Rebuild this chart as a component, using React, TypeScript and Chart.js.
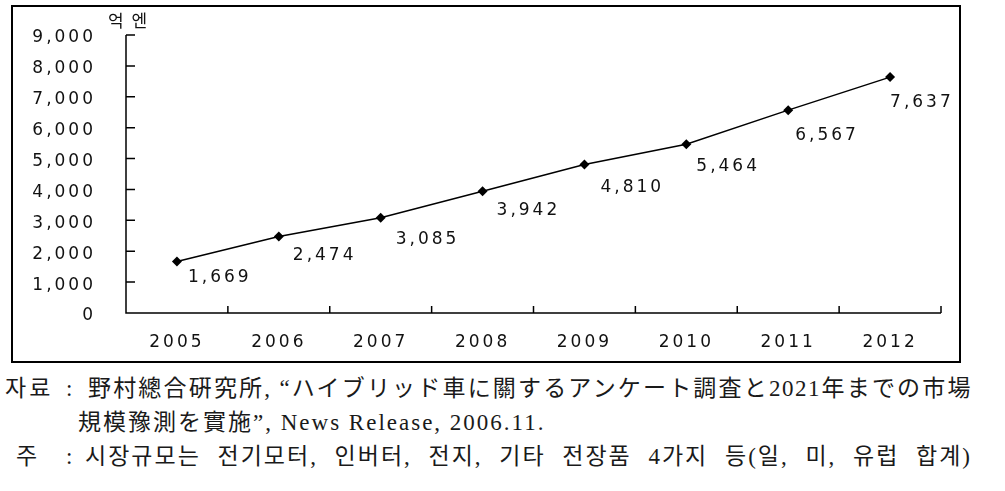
import React, { useEffect, useRef } from "react";
import { Chart, registerables } from "chart.js";

Chart.register(...registerables);

// ---- data ----
const years = ["2005", "2006", "2007", "2008", "2009", "2010", "2011", "2012"];
const marketSize = [1669, 2474, 3085, 3942, 4810, 5464, 6567, 7637];
const yMin = 0;
const yMax = 9000;
const yStep = 1000;
const unitLabel = "억 엔";
const sourceLabel = "자료";
const sourceLine1 = "野村總合硏究所, “ハイブリッド車に關するアンケート調査と2021年までの市場";
const sourceLine2 = "規模豫測を實施”, News Release, 2006.11.";
const noteLabel = "주";
const noteLine = "시장규모는 전기모터, 인버터, 전지, 기타 전장품 4가지 등(일, 미, 유럽 합계)";

// label placement (style, relative to each point)
const labelDx = [11, 14, 15, 14, 16, 10, 7, 0];
const labelDy = [16, 19, 22, 19, 23, 22, 25, 25];

const CHART_FONT = "'DejaVu Sans', sans-serif";
const fmt = (v: number) => Number(v).toLocaleString("en-US");

const customPlugin = {
  id: "customAxesAndLabels",
  beforeDraw(chart: any) {
    chart.ctx.letterSpacing = "3px";
  },
  afterDraw(chart: any) {
    const ctx = chart.ctx;
    const x = chart.scales.x;
    const y = chart.scales.y;
    const { left, right, top, bottom } = chart.chartArea;
    ctx.save();
    ctx.strokeStyle = "#000";
    ctx.lineWidth = 1.5;
    ctx.beginPath();
    ctx.moveTo(left, top);
    ctx.lineTo(left, bottom);
    ctx.lineTo(right, bottom);
    y.ticks.forEach((t: any) => {
      const py = y.getPixelForValue(t.value);
      if (t.value === yMin) return;
      ctx.moveTo(left, py);
      ctx.lineTo(left + 9, py);
    });
    for (let i = 0; i <= years.length; i++) {
      const px = x.getPixelForValue(i - 0.5);
      ctx.moveTo(px, bottom);
      ctx.lineTo(px, bottom - 7);
    }
    ctx.stroke();

    // data labels
    const meta = chart.getDatasetMeta(0);
    ctx.font = `17px ${CHART_FONT}`;
    ctx.fillStyle = "#111";
    ctx.textAlign = "left";
    ctx.textBaseline = "middle";
    ctx.letterSpacing = "3px";
    meta.data.forEach((pt: any, i: number) => {
      ctx.fillText(fmt(marketSize[i]), pt.x + labelDx[i], pt.y + labelDy[i]);
    });
    ctx.restore();
    ctx.letterSpacing = "0px";
  },
};

export default function App() {
  const ref = useRef<HTMLCanvasElement>(null);

  useEffect(() => {
    const chart = new Chart(ref.current as HTMLCanvasElement, {
      type: "line",
      data: {
        labels: years,
        datasets: [
          {
            data: marketSize,
            borderColor: "#000",
            borderWidth: 1.5,
            pointStyle: "rectRot",
            pointRadius: 5,
            pointBackgroundColor: "#000",
            pointBorderColor: "#000",
            pointBorderWidth: 0,
            tension: 0,
            fill: false,
            clip: false,
          } as any,
        ],
      },
      options: {
        animation: false,
        responsive: false,
        devicePixelRatio: 1,
        events: [],
        layout: { padding: { left: 0, right: 64, top: 35, bottom: 0 } },
        plugins: {
          legend: { display: false },
          tooltip: { enabled: false },
          title: { display: false },
        },
        scales: {
          x: {
            type: "category",
            offset: true,
            grid: { display: false, drawTicks: false },
            border: { display: false },
            ticks: {
              padding: 19,
              color: "#111",
              font: { family: CHART_FONT, size: 17 },
              maxRotation: 0,
              autoSkip: false,
            },
            afterFit: (s: any) => {
              s.height = 57;
            },
          },
          y: {
            min: yMin,
            max: yMax,
            grid: { display: false, drawTicks: false },
            border: { display: false },
            ticks: {
              stepSize: yStep,
              padding: 30,
              labelOffset: 3,
              color: "#111",
              font: { family: CHART_FONT, size: 17 },
              callback: (v: any) => fmt(v),
            },
            afterFit: (s: any) => {
              s.width = 126;
              s.paddingTop = 0;
              s.paddingBottom = 0;
            },
          },
        },
      } as any,
      plugins: [customPlugin],
    });
    return () => chart.destroy();
  }, []);

  const noteFont = "'Liberation Serif', 'Noto Sans CJK KR', serif";
  const lineStyle: React.CSSProperties = {
    position: "absolute",
    fontFamily: noteFont,
    fontSize: 23,
    lineHeight: "24px",
    letterSpacing: 2,
    color: "#1a1a1a",
    whiteSpace: "nowrap",
  };

  return (
    <div
      style={{
        position: "absolute",
        left: 0,
        top: 0,
        width: 1005,
        height: 491,
        background: "#fff",
        overflow: "hidden",
      }}
    >
      <div
        style={{
          position: "absolute",
          left: 11,
          top: 5,
          width: 950,
          height: 358,
          border: "2px solid #000",
          boxSizing: "border-box",
        }}
      />
      <canvas
        ref={ref}
        width={1005}
        height={370}
        style={{ position: "absolute", left: 0, top: 0, width: 1005, height: 370 }}
      />
      <div
        style={{
          position: "absolute",
          left: 108,
          top: 11,
          fontFamily: "'Noto Sans CJK KR', sans-serif",
          fontSize: 17,
          lineHeight: "17px",
          letterSpacing: 2,
          color: "#111",
          whiteSpace: "nowrap",
        }}
      >
        {unitLabel}
      </div>

      <div style={{ ...lineStyle, left: 5, top: 377, letterSpacing: 3 }}>{sourceLabel}</div>
      <div style={{ ...lineStyle, left: 66, top: 377 }}>:</div>
      <div
        style={{
          ...lineStyle,
          left: 88,
          top: 377,
          width: 884,
          letterSpacing: 1.5,
          whiteSpace: "normal",
          textAlign: "justify",
          textAlignLast: "justify" as any,
        }}
      >
        {sourceLine1}
      </div>
      <div style={{ ...lineStyle, left: 78, top: 411 }}>{sourceLine2}</div>

      <div style={{ ...lineStyle, left: 16, top: 445 }}>{noteLabel}</div>
      <div style={{ ...lineStyle, left: 66, top: 445 }}>:</div>
      <div
        style={{
          ...lineStyle,
          left: 85,
          top: 445,
          width: 887,
          whiteSpace: "normal",
          textAlign: "justify",
          textAlignLast: "justify" as any,
        }}
      >
        {noteLine}
      </div>
    </div>
  );
}
